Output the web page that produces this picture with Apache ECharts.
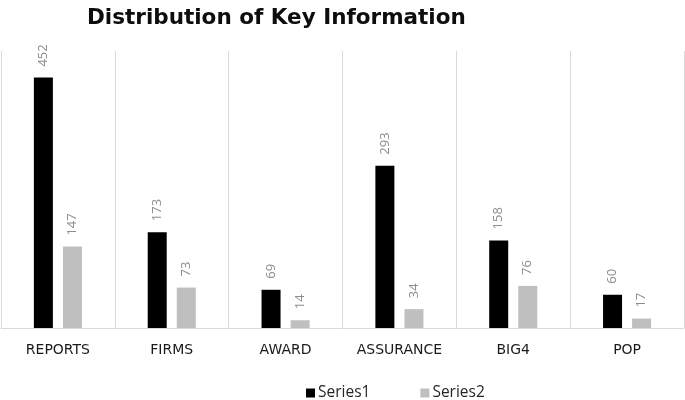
<!DOCTYPE html>
<html>
<head>
<meta charset="utf-8">
<script src="https://cdn.jsdelivr.net/npm/echarts@6/dist/echarts.min.js"></script>
<style>
  html, body { margin: 0; padding: 0; background: #fff; }
  #main { width: 685px; height: 400px; }
</style>
</head>
<body>
<div id="main"></div>
<script>
var categories = ['REPORTS', 'FIRMS', 'AWARD', 'ASSURANCE', 'BIG4', 'POP'];
var series1 = [452, 173, 69, 293, 158, 60];
var series2 = [147, 73, 14, 34, 76, 17];

var myChart = echarts.init(document.getElementById('main'));

// value labels rotated, sitting above the bars
var valueLabel = {
    show: true,
    position: 'top',
    rotate: 90,
    align: 'left',
    verticalAlign: 'middle',
    distance: 11,
    color: '#8c8c8c',
    fontFamily: 'Open Sans',
    fontSize: 13
};

var option = {
    backgroundColor: '#FFFFFF',
    animation: false,
    title: {
        text: 'Distribution of Key Information',
        left: 82,
        top: 2,
        textStyle: {
            fontFamily: 'DejaVu Sans',
            fontWeight: 'bold',
            fontSize: 21.5,
            color: '#0d0d0d'
        }
    },
    legend: {
        data: ['Series1', 'Series2'],
        top: 380,
        left: 301,
        itemWidth: 9,
        itemHeight: 9,
        itemGap: 50,
        icon: 'rect',
        textStyle: {
            fontFamily: 'Open Sans',
            fontSize: 15.5,
            color: '#262626',
            padding: [0, 0, 0, -2]
        }
    },
    grid: {
        left: 1,
        right: 1,
        top: 51,
        bottom: 72
    },
    xAxis: {
        type: 'category',
        data: categories,
        axisLine: {
            lineStyle: { color: '#d9d9d9', width: 1 }
        },
        axisTick: { show: false },
        splitLine: {
            show: true,
            lineStyle: { color: '#d9d9d9', width: 1 }
        },
        axisLabel: {
            margin: 15,
            fontFamily: 'DejaVu Sans',
            fontSize: 14,
            color: '#1a1a1a'
        }
    },
    yAxis: {
        type: 'value',
        min: 0,
        max: 500,
        show: false,
        splitLine: { show: false }
    },
    series: [{
        name: 'Series1',
        type: 'bar',
        data: series1,
        barWidth: 19,
        barGap: '53%',
        itemStyle: { color: '#000000' },
        label: valueLabel
    }, {
        name: 'Series2',
        type: 'bar',
        data: series2,
        barWidth: 19,
        itemStyle: { color: '#bfbfbf' },
        label: valueLabel
    }]
};

myChart.setOption(option);
</script>
</body>
</html>
